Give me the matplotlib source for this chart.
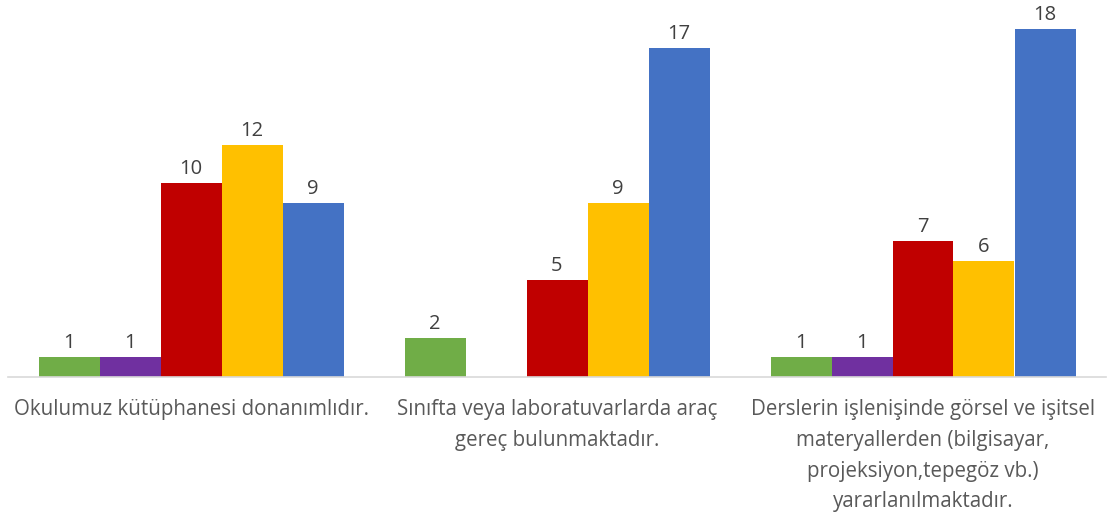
import matplotlib.pyplot as plt
import numpy as np

plt.rcParams['font.family'] = ['Open Sans', 'DejaVu Sans']

categories = [
    'Okulumuz kütüphanesi donanımlıdır.',
    'Sınıfta veya laboratuvarlarda araç\ngereç bulunmaktadır.',
    'Derslerin işlenişinde görsel ve işitsel\nmateryallerden (bilgisayar,\nprojeksiyon,tepegöz vb.)\nyararlanılmaktadır.',
]
green = [1, 2, 1]
purple = [1, 0, 1]
red = [10, 5, 7]
yellow = [12, 9, 6]
blue = [9, 17, 18]

series = [green, purple, red, yellow, blue]
colors = ['#70AD47', '#7030A0', '#C00000', '#FFC000', '#4472C4']

fig = plt.figure(figsize=(11.07, 5.12), dpi=100)
ax = fig.add_axes([8 / 1107, 1 - 376.5 / 512, 1098 / 1107, 375 / 512])

x = np.arange(len(categories))
w = 1 / 6
for i, (vals, c) in enumerate(zip(series, colors)):
    pos = x + (i - 2) * w
    for p, v in zip(pos, vals):
        if v == 0:
            continue
        ax.bar(p, v, width=w, color=c)
        ax.text(p, v + 0.2, str(v), ha='center', va='bottom',
                fontsize=14.5, color='#404040')

ax.set_xlim(-0.5, 2.5)
ax.set_ylim(0, 19.4)
ax.set_xticks(x)
ax.set_xticklabels(categories, fontsize=14.8, color='#595959', linespacing=1.6, va='top')
ax.tick_params(axis='x', length=0, pad=16.5)
ax.set_yticks([])
for s in ['top', 'right', 'left']:
    ax.spines[s].set_visible(False)
ax.spines['bottom'].set_color('#D9D9D9')
ax.spines['bottom'].set_linewidth(1.2)

fig.savefig('out.png', dpi=100)
